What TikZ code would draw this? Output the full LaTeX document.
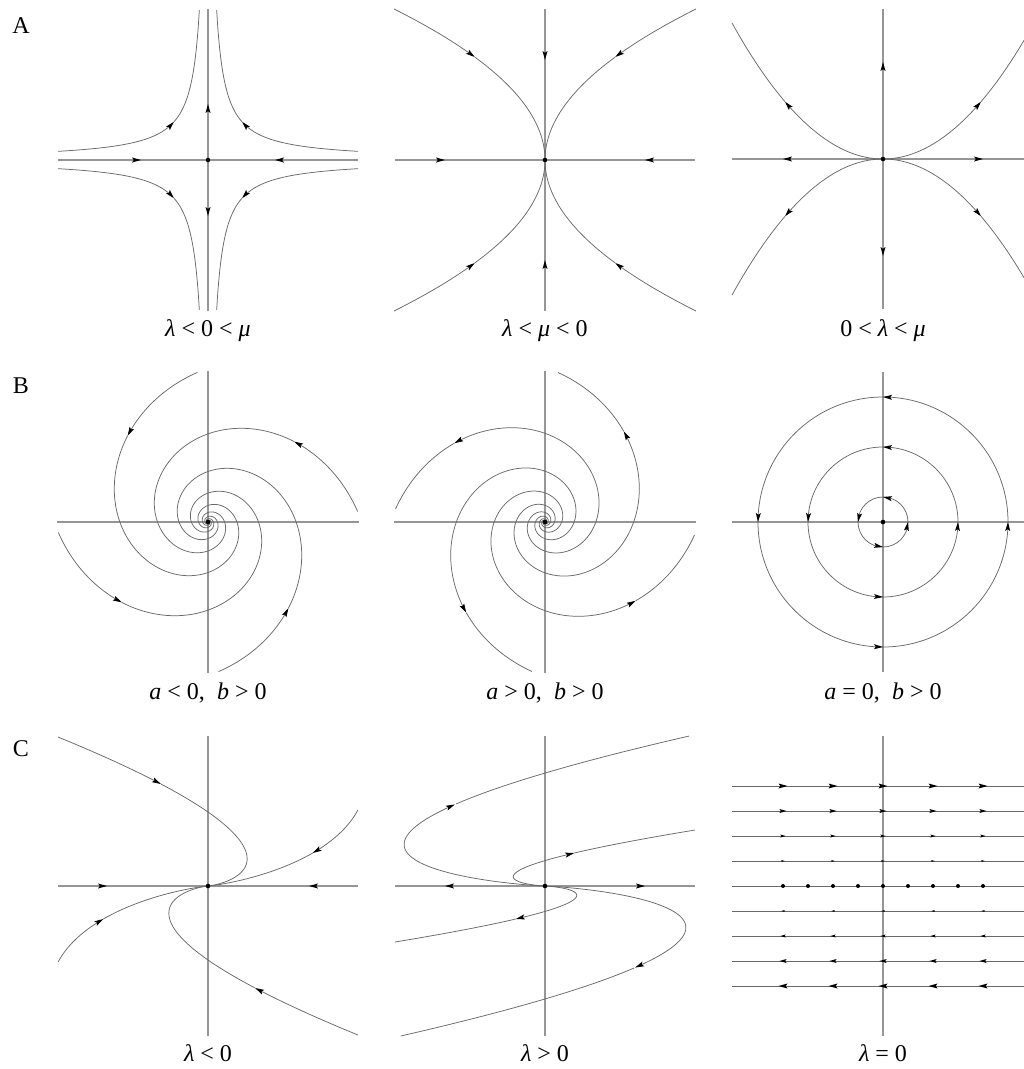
\documentclass[tikz,border=0pt]{standalone}
\usepackage{fontspec}
\setmainfont{Liberation Serif}
\usetikzlibrary{arrows.meta}
\definecolor{axgray}{RGB}{150,150,150}
\definecolor{trgray}{RGB}{105,105,105}
\newcommand\ahd[4]{\fill[black,shift={(#1,#2)},rotate=#3,scale=#4] (0,0) -- (-9,2.5) -- (-7.2,0) -- (-9,-2.5) -- cycle;}
\newcommand\ah[3]{\ahd{#1}{#2}{#3}{1}}
\begin{document}
\begin{tikzpicture}[x=1pt,y=1pt,
  axisline/.style={draw=axgray,line width=1.2pt},
  traj/.style={draw=trgray,line width=0.75pt},
  withtip/.style={-{Stealth[length=9pt,width=5pt,inset=1.8pt,color=black]}},
  lab/.style={font=\fontsize{24}{28}\selectfont,anchor=base,inner sep=0pt}]
\useasboundingbox (0,0) rectangle (1024,-1069);

% ---------- A1 saddle ----------
\begin{scope}[shift={(208,-160)}]
\draw[axisline] (-150,0) -- (150,0);
\draw[axisline] (0,-151) -- (0,151);
\foreach \sx/\sy in {1/1,-1/1,1/-1,-1/-1}{
  \draw[traj,withtip] plot[domain=5.0106:3.526,samples=40] ({\sx*exp(\x)},{\sy*1300/exp(\x)});
  \draw[traj] plot[domain=3.526:2.1595,samples=40] ({\sx*exp(\x)},{\sy*1300/exp(\x)});
}
\ah{-67}{0}{0} \ah{67}{0}{180} \ah{0}{56}{90} \ah{0}{-56}{-90}
\fill (0,0) circle (2.3);
\end{scope}

% ---------- A2 stable node ----------
\begin{scope}[shift={(545,-160)}]
\draw[axisline] (-150,0) -- (150,0);
\draw[axisline] (0,-151) -- (0,151);
\foreach \sx/\sy in {1/1,-1/1,1/-1,-1/-1}{
  \draw[traj,withtip] plot[domain=151:103,samples=30] ({\sx*(\x/151)*\x},{\sy*\x});
  \draw[traj] plot[domain=103:0,samples=60] ({\sx*(\x/151)*\x},{\sy*\x});
}
\ah{-100}{0}{0} \ah{100}{0}{180} \ah{0}{100}{-90} \ah{0}{-100}{90}
\fill (0,0) circle (2.3);
\end{scope}

% ---------- A3 unstable node ----------
\begin{scope}[shift={(883,-159)}]
\draw[axisline] (-151,0) -- (141,0);
\draw[axisline] (0,-150) -- (0,150);
\foreach \sx/\sy/\xe in {1/1/141,-1/1/151,1/-1/141,-1/-1/151}{
  \draw[traj,withtip] plot[domain=0:98,samples=60] ({\sx*\x},{\sy*(\x/167.6)*\x});
  \draw[traj] plot[domain=98:\xe,samples=30] ({\sx*\x},{\sy*(\x/167.6)*\x});
}
\ah{-100}{0}{180} \ah{100}{0}{0} \ah{0}{97}{90} \ah{0}{-97}{-90}
\fill (0,0) circle (2.3);
\end{scope}

% ---------- B1 stable focus ----------
\begin{scope}[shift={(208,-522)}]
\draw[axisline] (-151,0) -- (151,0);
\draw[axisline] (0,-151) -- (0,151);
\foreach \t/\ta/\te in {4/43/904,94/133/994,184/223/1084,274/313/1174}{
  \draw[traj,withtip] plot[domain=\t:\ta,samples=30] (\x:{150*exp(-0.3545*rad(\x-\t))});
  \draw[traj] plot[domain=\ta:\te,samples=700] (\x:{150*exp(-0.3545*rad(\x-\t))});
}
\fill (0,0) circle (2.3);
\end{scope}

% ---------- B2 unstable focus ----------
\begin{scope}[shift={(545,-522)}]
\draw[axisline] (-151,0) -- (151,0);
\draw[axisline] (0,-151) -- (0,151);
\foreach \te/\ta/\ts in {85/49/-815,175/139/-725,265/229/-635,355/319/-545}{
  \draw[traj,withtip] plot[domain=\ts:\ta,samples=700] (\x:{150*exp(0.3545*rad(\x-\te))});
  \draw[traj] plot[domain=\ta:\te,samples=30] (\x:{150*exp(0.3545*rad(\x-\te))});
}
\fill (0,0) circle (2.3);
\end{scope}

% ---------- B3 center ----------
\begin{scope}[shift={(883,-522)}]
\draw[axisline] (-151,0) -- (141,0);
\draw[axisline] (0,-150) -- (0,150);
\foreach \rr in {25,75,125}{
  \draw[traj] (0,0) circle (\rr);
  \pgfmathsetmacro\dd{asin(4.5/\rr)}
  \ahd{\rr}{0}{90-\dd}{1}
  \ahd{0}{\rr}{180-\dd}{1}
  \ahd{-\rr}{0}{270-\dd}{1}
  \ahd{0}{-\rr}{-\dd}{1}
}
\fill (0,0) circle (2.3);
\end{scope}

% ---------- C1 degenerate stable ----------
\begin{scope}[shift={(208,-886)}]
\draw[axisline] (-150,0) -- (150,0);
\draw[axisline] (0,-150) -- (0,150);
\foreach \s in {1,-1}{
  \draw[traj,withtip] plot[domain=5.004:4.625,samples=20] ({\s*exp(\x)*(6.189-1.438*\x)},{\s*exp(\x)});
  \draw[traj] plot[domain=4.625:-3.5,samples=400] ({\s*exp(\x)*(6.189-1.438*\x)},{\s*exp(\x)});
  \draw[traj,withtip] plot[domain=4.33:3.497,samples=20] ({\s*exp(\x)*(8.2-1.438*\x)},{\s*exp(\x)});
  \draw[traj] plot[domain=3.497:-3.5,samples=400] ({\s*exp(\x)*(8.2-1.438*\x)},{\s*exp(\x)});
}
\ah{-101}{0}{0} \ah{101}{0}{180}
\fill (0,0) circle (2.3);
\end{scope}

% ---------- C2 degenerate unstable ----------
\begin{scope}[shift={(545,-886)}]
\draw[axisline] (-150,0) -- (150,0);
\draw[axisline] (0,-150) -- (0,150);
\foreach \s in {1,-1}{
  \draw[traj,withtip] plot[domain=-3:4.407,samples=500] ({\s*3.39*exp(\x)*(\x-4.727)},{\s*exp(\x)});
  \draw[traj] plot[domain=4.407:5.011,samples=30] ({\s*3.39*exp(\x)*(\x-4.727)},{\s*exp(\x)});
  \draw[traj,withtip] plot[domain=-3:3.497,samples=400] ({\s*3.39*exp(\x)*(\x-3.235)},{\s*exp(\x)});
  \draw[traj] plot[domain=3.497:4.025,samples=30] ({\s*3.39*exp(\x)*(\x-3.235)},{\s*exp(\x)});
}
\ah{-100}{0}{180} \ah{100}{0}{0}
\fill (0,0) circle (2.3);
\end{scope}

% ---------- C3 shear ----------
\begin{scope}[shift={(883,-886)}]
\draw[axisline] (0,-150) -- (0,150);
\foreach \k in {-4,...,4}{
  \draw[traj] (-151,25*\k) -- (141,25*\k);
}
\foreach \k in {1,2,3,4}{
  \pgfmathsetmacro\sc{0.2+0.2*\k}
  \foreach \xx in {-100,-50,0,50,100}{
    \ahd{\xx+4.5*\sc}{25*\k}{0}{\sc}
    \ahd{\xx-4.5*\sc}{-25*\k}{180}{\sc}
  }
}
\foreach \xx in {-100,-75,...,100}{
  \fill (\xx,0) circle (2);
}
\end{scope}

% ---------- labels ----------
\node[lab] (pA) at (21,-33) {A};
\node[lab] (pB) at (21,-393) {B};
\node[lab] (pC) at (21,-756) {C};
\node[lab] (la1) at (208,-336) {\textit{λ} < 0 < \textit{μ}};
\node[lab] (la2) at (545,-336) {\textit{λ} < \textit{μ} < 0};
\node[lab] (la3) at (883,-336) {0 < \textit{λ} < \textit{μ}};
\node[lab] (lb1) at (208,-699) {\textit{a} < 0,\hspace{0.5em}\textit{b} > 0};
\node[lab] (lb2) at (545,-699) {\textit{a} > 0,\hspace{0.5em}\textit{b} > 0};
\node[lab] (lb3) at (883,-699) {\textit{a} = 0,\hspace{0.5em}\textit{b} > 0};
\node[lab] (lc1) at (208,-1061) {\textit{λ} < 0};
\node[lab] (lc2) at (545,-1061) {\textit{λ} > 0};
\node[lab] (lc3) at (883,-1061) {\textit{λ} = 0};
\end{tikzpicture}
\end{document}
